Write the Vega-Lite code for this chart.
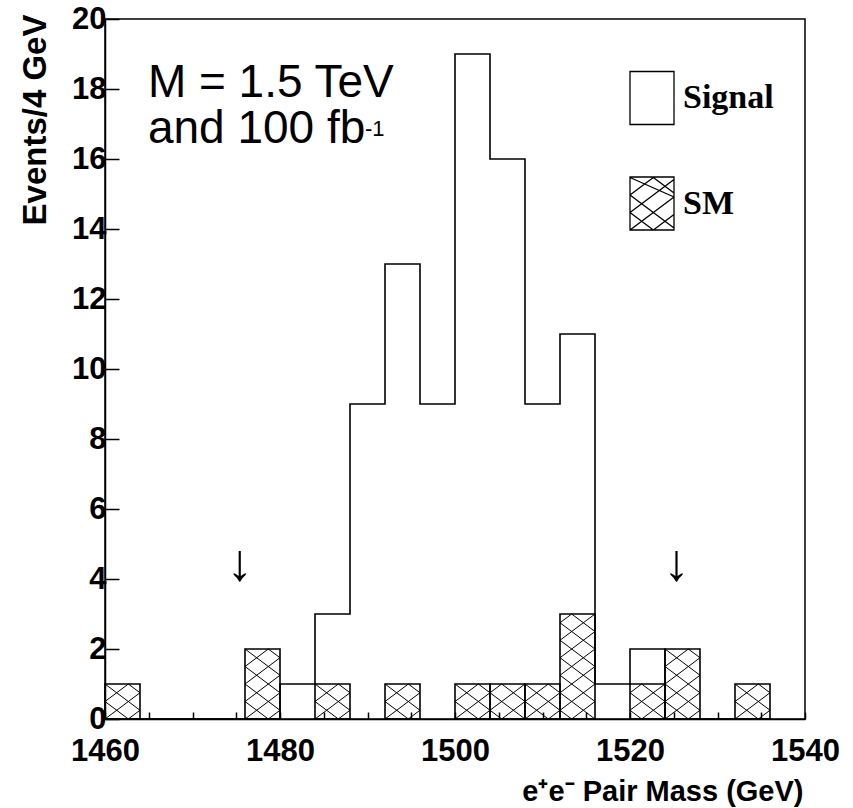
{
  "$schema": "https://vega.github.io/schema/vega-lite/v6.json",
  "width": 700,
  "height": 700,
  "autosize": {"type": "none"},
  "padding": {"left": 105, "top": 19, "right": 48, "bottom": 89},
  "background": "white",
  "config": {
    "view": {"stroke": "black", "strokeWidth": 1.5},
    "font": "Liberation Sans"
  },
  "datasets": {
    "hist": [
      {"m": 1460, "m_end": 1464, "signal": 0, "sm": 1},
      {"m": 1464, "m_end": 1468, "signal": 0, "sm": 0},
      {"m": 1468, "m_end": 1472, "signal": 0, "sm": 0},
      {"m": 1472, "m_end": 1476, "signal": 0, "sm": 0},
      {"m": 1476, "m_end": 1480, "signal": 0, "sm": 2},
      {"m": 1480, "m_end": 1484, "signal": 1, "sm": 0},
      {"m": 1484, "m_end": 1488, "signal": 3, "sm": 1},
      {"m": 1488, "m_end": 1492, "signal": 9, "sm": 0},
      {"m": 1492, "m_end": 1496, "signal": 13, "sm": 1},
      {"m": 1496, "m_end": 1500, "signal": 9, "sm": 0},
      {"m": 1500, "m_end": 1504, "signal": 19, "sm": 1},
      {"m": 1504, "m_end": 1508, "signal": 16, "sm": 1},
      {"m": 1508, "m_end": 1512, "signal": 9, "sm": 1},
      {"m": 1512, "m_end": 1516, "signal": 11, "sm": 3},
      {"m": 1516, "m_end": 1520, "signal": 1, "sm": 0},
      {"m": 1520, "m_end": 1524, "signal": 2, "sm": 1},
      {"m": 1524, "m_end": 1528, "signal": 0, "sm": 2},
      {"m": 1528, "m_end": 1532, "signal": 0, "sm": 0},
      {"m": 1532, "m_end": 1536, "signal": 0, "sm": 1},
      {"m": 1536, "m_end": 1540, "signal": 0, "sm": 0}
    ],
    "notes": [
      {"label": "M = 1.5 TeV", "x": 1464.9, "y": 17.78},
      {"label": "and 100 fb", "x": 1464.9, "y": 16.46}
    ],
    "sup": [
      {"label": "-1", "x": 1489.7, "y": 16.66}
    ],
    "cuts": [
      {"x": 1475.4, "y": 4.44},
      {"x": 1525.3, "y": 4.44}
    ]
  },
  "layer": [
    {
      "data": {"name": "hist"},
      "mark": {"type": "line", "interpolate": "step-after", "strokeWidth": 1.6},
      "encoding": {
        "x": {
          "field": "m", "type": "quantitative",
          "scale": {"domain": [1460, 1540], "nice": false, "zero": false},
          "axis": {
            "values": [1460,1465,1470,1475,1480,1485,1490,1495,1500,1505,1510,1515,1520,1525,1530,1535,1540],
            "format": "d",
            "labelExpr": "datum.value % 20 === 0 ? datum.label : ''",
            "tickSize": -7,
            "tickColor": "black",
            "tickWidth": 1.5,
            "domainColor": "black", "domainWidth": 1.5,
            "grid": false,
            "labelFont": "Liberation Sans", "labelFontSize": 31, "labelFontWeight": "bold", "labelColor": "black",
            "labelPadding": 24, "labelFlush": false, "labelOverlap": false,
            "title": "e⁺e⁻ Pair Mass (GeV)",
            "titleFont": "Liberation Sans", "titleFontSize": 29, "titleFontWeight": "bold", "titleColor": "black",
            "titleAlign": "right", "titleAnchor": "end", "titleBaseline": "alphabetic",
            "titleX": 698, "titleY": 81,
            "encode": {
              "ticks": {
                "update": {
                  "y2": [{"test": "datum.value % 20 === 0", "value": -14}, {"value": -7}]
                }
              }
            }
          }
        },
        "y": {
          "field": "signal", "type": "quantitative",
          "scale": {"domain": [0, 20], "nice": false},
          "axis": {
            "values": [0,0.5,1,1.5,2,2.5,3,3.5,4,4.5,5,5.5,6,6.5,7,7.5,8,8.5,9,9.5,10,10.5,11,11.5,12,12.5,13,13.5,14,14.5,15,15.5,16,16.5,17,17.5,18,18.5,19,19.5,20],
            "format": "d",
            "labelExpr": "datum.value % 2 === 0 ? datum.label : ''",
            "tickSize": {"condition": {"test": "datum.value % 2 === 0", "value": -14}, "value": -7},
            "tickColor": "black",
            "tickWidth": 1.5,
            "domainColor": "black", "domainWidth": 1.5,
            "grid": false,
            "labelFont": "Liberation Sans", "labelFontSize": 31, "labelFontWeight": "bold", "labelColor": "black",
            "labelPadding": 13, "labelFlush": false, "labelOverlap": false,
            "title": "Events/4 GeV",
            "titleFont": "Liberation Sans", "titleFontSize": 33, "titleFontWeight": "bold", "titleColor": "black",
            "titleAngle": -90, "titleAlign": "right", "titleBaseline": "middle",
            "titleX": -70, "titleY": -5
          }
        },
        "stroke": {
          "datum": "Signal",
          "scale": {"domain": ["Signal", "SM"], "range": ["black", "black"]},
          "legend": {
            "title": null,
            "orient": "none",
            "legendX": 530,
            "legendY": 62,
            "symbolSize": 4,
            "labelFont": "Liberation Serif",
            "labelFontSize": 34,
            "labelFontWeight": "bold",
            "labelColor": "black",
            "labelOffset": 14,
            "rowPadding": 45.5,
            "encode": {
              "symbols": {
                "update": {
                  "shape": {"signal": "datum.value === 'SM' ? 'M-22,-26.5H22V26.5H-22ZM-22,-8.5L2,-26.5M-22,9L22,-24M-22,26.5L22,-6.5M1.33,26.5L22,11M-22,9L1.33,26.5M-22,-8.5L22,24.5M-22,-26L22,-6.5M0.67,-26.5L22,-10.5' : 'M-22,-26.5H22V26.5H-22Z'"},
                  "fill": {"value": "transparent"},
                  "stroke": {"value": "black"},
                  "strokeWidth": {"value": 1.3},
                  "opacity": {"value": 1}
                }
              }
            }
          }
        }
      }
    },
    {
      "data": {"name": "hist"},
      "transform": [{"filter": "datum.sm > 0"}],
      "mark": {"type": "rect", "fill": "transparent", "strokeWidth": 1.6},
      "encoding": {
        "x": {"field": "m", "type": "quantitative"},
        "x2": {"field": "m_end"},
        "y": {"field": "sm", "type": "quantitative"},
        "y2": {"datum": 0},
        "stroke": {"datum": "SM"}
      }
    },
    {
      "data": {"name": "hist"},
      "transform": [{"filter": "datum.sm > 0"}],
      "mark": {"type": "point", "filled": false, "size": 4, "strokeWidth": 1, "color": "black", "opacity": 1},
      "encoding": {
        "x": {"field": "m", "type": "quantitative"},
        "y": {"datum": 0, "type": "quantitative"},
        "shape": {
          "field": "m", "type": "ordinal", "legend": null,
          "scale": {
            "domain": [1460, 1476, 1484, 1492, 1500, 1504, 1508, 1512, 1520, 1524, 1532],
            "range": [
              "M0,-17.5L23.33,-35M0,0L35,-26.25M23.33,0L35,-8.75M0,-17.5L23.33,0M0,-35L35,-8.75M23.33,-35L35,-26.25",
              "M0,-52.5L23.33,-70M0,-35L35,-61.25M0,-17.5L35,-43.75M0,0L35,-26.25M23.33,0L35,-8.75M0,-17.5L23.33,0M0,-35L35,-8.75M0,-52.5L35,-26.25M0,-70L35,-43.75M23.33,-70L35,-61.25",
              "M0,-17.5L23.33,-35M0,0L35,-26.25M23.33,0L35,-8.75M0,-17.5L23.33,0M0,-35L35,-8.75M23.33,-35L35,-26.25",
              "M0,-17.5L23.33,-35M0,0L35,-26.25M23.33,0L35,-8.75M0,-17.5L23.33,0M0,-35L35,-8.75M23.33,-35L35,-26.25",
              "M0,-17.5L23.33,-35M0,0L35,-26.25M23.33,0L35,-8.75M0,-17.5L23.33,0M0,-35L35,-8.75M23.33,-35L35,-26.25",
              "M0,-26.25L11.67,-35M0,-8.75L35,-35M11.67,0L35,-17.5M0,-8.75L11.67,0M0,-26.25L35,0M11.67,-35L35,-17.5",
              "M0,-17.5L23.33,-35M0,0L35,-26.25M23.33,0L35,-8.75M0,-17.5L23.33,0M0,-35L35,-8.75M23.33,-35L35,-26.25",
              "M0,-96.25L11.67,-105M0,-78.75L35,-105M0,-61.25L35,-87.5M0,-43.75L35,-70M0,-26.25L35,-52.5M0,-8.75L35,-35M11.67,0L35,-17.5M0,-8.75L11.67,0M0,-26.25L35,0M0,-43.75L35,-17.5M0,-61.25L35,-35M0,-78.75L35,-52.5M0,-96.25L35,-70M11.67,-105L35,-87.5",
              "M0,-26.25L11.67,-35M0,-8.75L35,-35M11.67,0L35,-17.5M0,-8.75L11.67,0M0,-26.25L35,0M11.67,-35L35,-17.5",
              "M0,-52.5L23.33,-70M0,-35L35,-61.25M0,-17.5L35,-43.75M0,0L35,-26.25M23.33,0L35,-8.75M0,-17.5L23.33,0M0,-35L35,-8.75M0,-52.5L35,-26.25M0,-70L35,-43.75M23.33,-70L35,-61.25",
              "M0,-17.5L23.33,-35M0,0L35,-26.25M23.33,0L35,-8.75M0,-17.5L23.33,0M0,-35L35,-8.75M23.33,-35L35,-26.25"
            ]
          }
        }
      }
    },
    {
      "data": {"name": "notes"},
      "mark": {"type": "text", "align": "left", "baseline": "alphabetic", "font": "Liberation Sans", "fontSize": 46, "color": "black"},
      "encoding": {
        "x": {"field": "x", "type": "quantitative"},
        "y": {"field": "y", "type": "quantitative"},
        "text": {"field": "label"}
      }
    },
    {
      "data": {"name": "sup"},
      "mark": {"type": "text", "align": "left", "baseline": "alphabetic", "font": "Liberation Sans", "fontSize": 22, "color": "black"},
      "encoding": {
        "x": {"field": "x", "type": "quantitative"},
        "y": {"field": "y", "type": "quantitative"},
        "text": {"field": "label"}
      }
    },
    {
      "data": {"name": "cuts"},
      "mark": {"type": "text", "align": "center", "baseline": "middle", "font": "Liberation Serif", "fontSize": 52, "color": "black", "text": "↓"},
      "encoding": {
        "x": {"field": "x", "type": "quantitative"},
        "y": {"field": "y", "type": "quantitative"}
      }
    }
  ]
}
